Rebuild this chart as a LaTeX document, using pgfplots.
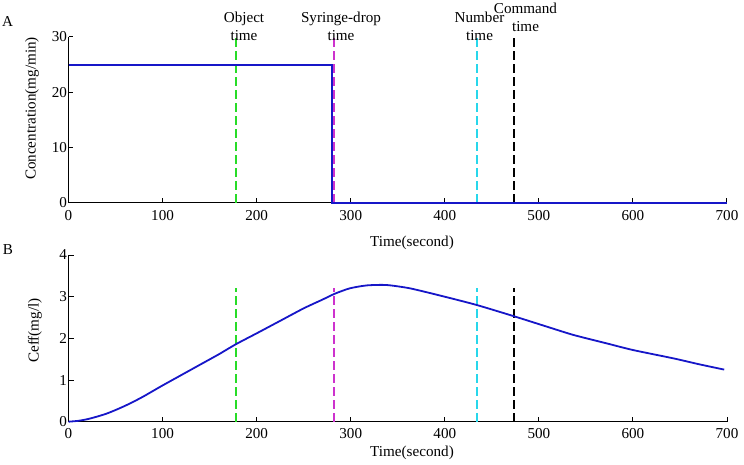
\documentclass[border=0pt]{standalone}
\usepackage{pgfplots}
\pgfplotsset{compat=1.18}
\usepackage{fontspec}
\setmainfont{Liberation Serif}
\definecolor{cblue}{RGB}{22,22,200}
\definecolor{cgreen}{RGB}{40,220,40}
\definecolor{cmag}{RGB}{205,50,205}
\definecolor{ccyan}{RGB}{40,215,235}
\newcommand{\fs}{\fontsize{15.2}{18}\selectfont}
\pgfplotsset{
  myaxis/.style={
    scale only axis, width=658.5bp,
    xmin=0, xmax=700, xtick={0,100,...,700},
    axis lines*=left, axis line style={line width=1bp, black},
    tick align=inside, major tick length=5bp,
    tick style={line width=1bp, black},
    clip=false,
    /pgf/number format/assume math mode=true,
    ticklabel style={font=\fs},
    xticklabel style={yshift=-3.5bp},
    yticklabel style={xshift=2bp},
  },
  evline/.style={line width=1.8bp, dash pattern=on 9bp off 4bp, forget plot},
}
\begin{document}
\begin{tikzpicture}
\useasboundingbox (0bp,0bp) rectangle (744bp,465bp);
% ---- Panel A ----
\begin{axis}[myaxis, at={(68.5bp,262bp)}, anchor=south west, height=166bp,
  ymin=0, ymax=30, ytick={0,10,20,30}]
\addplot[evline, cgreen] coordinates {(178,0) (178,30)};
\addplot[evline, cmag] coordinates {(282,0) (282,30)};
\addplot[evline, ccyan] coordinates {(434,0) (434,30)};
\addplot[evline, black] coordinates {(474,0) (474,30.5)};
\addplot[cblue, line width=1.8bp] coordinates {(0,25) (280,25) (280,0) (700,0)};
\end{axis}
% ---- Panel B ----
\begin{axis}[myaxis, at={(68.5bp,43.3bp)}, anchor=south west, height=166.7bp,
  ymin=0, ymax=4, ytick={0,1,2,3,4}]
\addplot[evline, cgreen] coordinates {(178,0) (178,3.2)};
\addplot[evline, cmag] coordinates {(282,0) (282,3.2)};
\addplot[evline, ccyan] coordinates {(434,0) (434,3.2)};
\addplot[evline, black] coordinates {(474,0) (474,3.2)};
\addplot[cblue, line width=1.8bp, smooth, tension=0.4] coordinates {
(0,0) (10,0.02) (20,0.06) (30,0.12) (40,0.19) (50,0.28) (60,0.38) (70,0.49)
(80,0.61) (90,0.74) (100,0.87) (120,1.12) (140,1.37) (160,1.62) (178,1.86)
(200,2.12) (225,2.42) (250,2.72) (270,2.93) (283,3.07) (299,3.20) (317,3.27)
(338,3.28) (363,3.20) (398,3.01) (434,2.80) (475,2.52) (510,2.27) (537,2.08)
(572,1.88) (600,1.72) (643,1.52) (670,1.38) (697,1.25)};
\end{axis}
% ---- Texts ----
\node[font=\fs] at (7.5bp,443bp) {A};
\node[font=\fs] at (8bp,215bp) {B};
\node[font=\fs, rotate=90] at (32bp,356.5bp) {Concentration(mg/min)};
\node[font=\fs, rotate=90] at (35bp,134.5bp) {Ceff(mg/l)};
\node[font=\fs] at (412bp,222bp) {Time(second)};
\node[font=\fs] at (412bp,12bp) {Time(second)};
\node[font=\fs, align=center, inner sep=0pt] at (244bp,439bp) {Object\\time};
\node[font=\fs, align=center, inner sep=0pt] at (341bp,439bp) {Syringe-drop\\time};
\node[font=\fs, align=center, inner sep=0pt] at (479.5bp,439bp) {Number\\time};
\node[font=\fs, align=center, inner sep=0pt] at (525.5bp,448bp) {Command\\time};
\end{tikzpicture}
\end{document}
